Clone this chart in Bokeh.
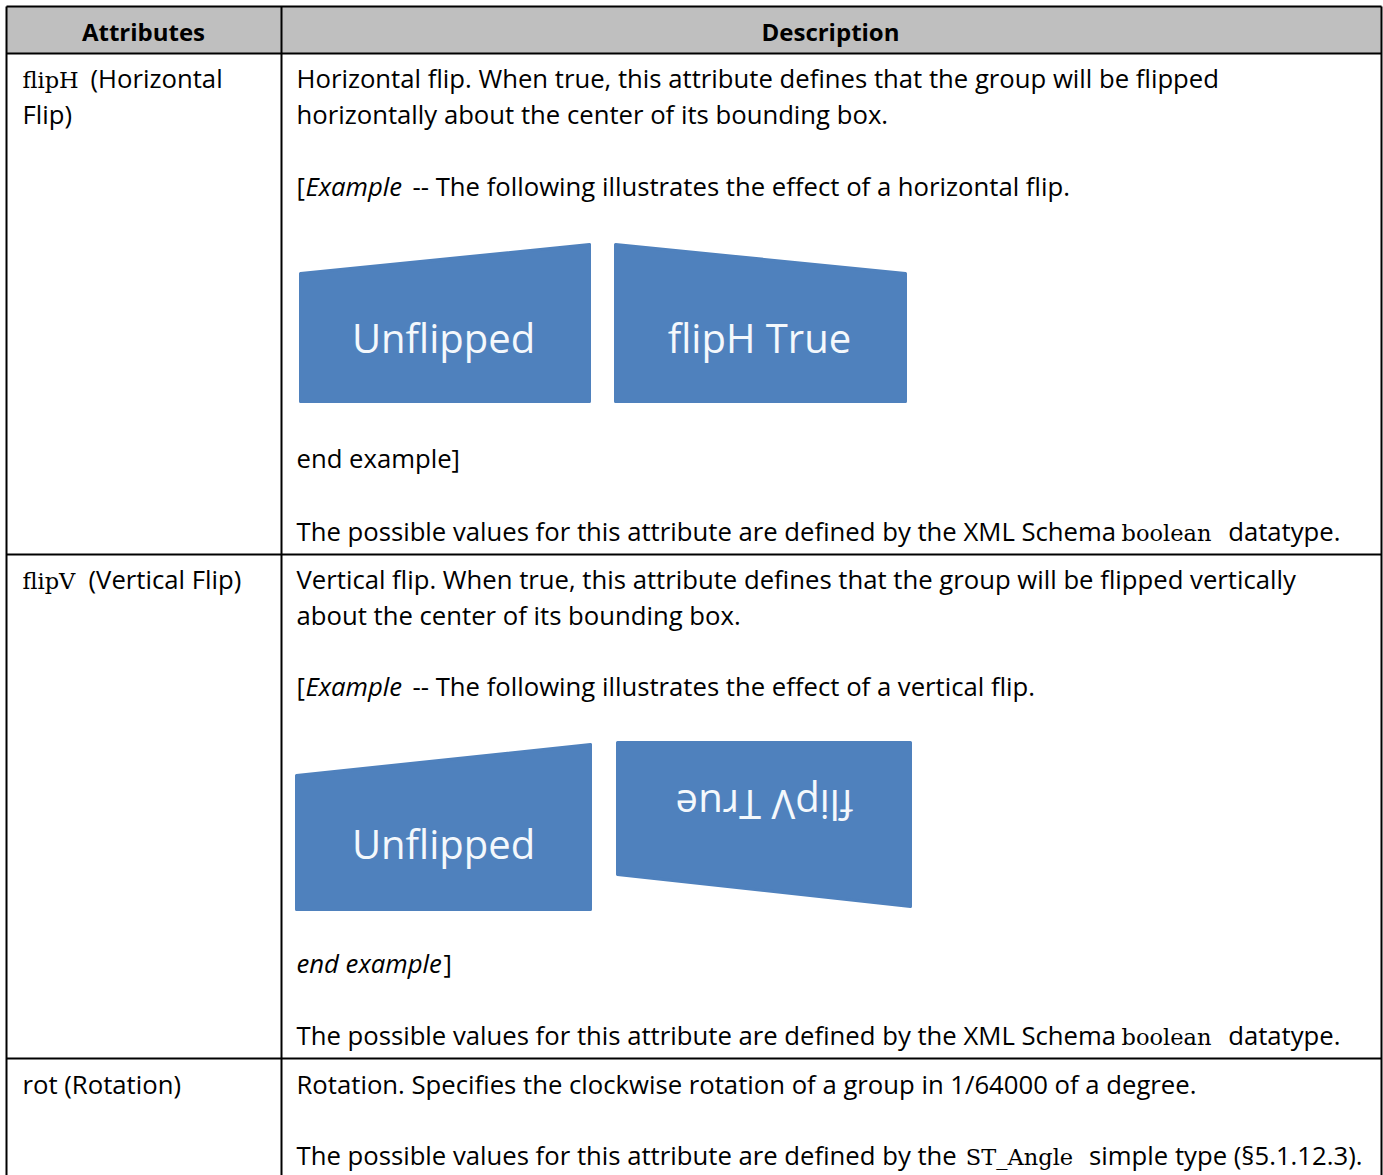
from bokeh.plotting import figure
from bokeh.models import Range1d, ColumnDataSource
from bokeh.core.properties import value
from bokeh.embed import file_html
from bokeh.resources import INLINE
import math

# ---------------- content ----------------
headers = ["Attributes", "Description"]
header_x = [143, 830]

# text runs: text, style, x, baseline, align
run_text = [
    # row 1 attribute
    "flipH", "(Horizontal", "Flip)",
    # row 1 description
    "Horizontal flip. When true, this attribute defines that the group will be flipped",
    "horizontally about the center of its bounding box.",
    "[", "Example", "-- The following illustrates the effect of a horizontal flip.",
    "end example]",
    "The possible values for this attribute are defined by the XML Schema", "boolean", "datatype.",
    # row 2 attribute
    "flipV", "(Vertical Flip)",
    # row 2 description
    "Vertical flip. When true, this attribute defines that the group will be flipped vertically",
    "about the center of its bounding box.",
    "[", "Example", "-- The following illustrates the effect of a vertical flip.",
    "end example", "]",
    "The possible values for this attribute are defined by the XML Schema", "boolean", "datatype.",
    # row 3
    "rot (Rotation)",
    "Rotation. Specifies the clockwise rotation of a group in 1/64000 of a degree.",
    "The possible values for this attribute are defined by the", "ST_Angle", "simple type (\u00a75.1.12.3).",
]
run_style = [
    "serif", "sans", "sans",
    "sans", "sans",
    "sans", "italic", "sans",
    "sans",
    "sans", "serif", "sans",
    "serif", "sans",
    "sans", "sans",
    "sans", "italic", "sans",
    "italic", "sans",
    "sans", "serif", "sans",
    "sans",
    "sans",
    "sans", "serif", "sans",
]
run_x = [
    22, 90, 22,
    296, 296,
    296, 305, 412,
    296,
    296, 1166, 1340,
    22, 88,
    296, 296,
    296, 305, 412,
    296, 443,
    296, 1166, 1340,
    22,
    296,
    296, 1019, 1362,
]
run_y = [
    78, 78, 114,
    78, 114,
    186, 186, 186,
    458,
    531, 531, 531,
    579, 579,
    579, 615,
    686, 686, 686,
    963, 963,
    1035, 1035, 1035,
    1084,
    1084,
    1155, 1155, 1155,
]
run_align = [
    "left", "left", "left",
    "left", "left",
    "left", "left", "left",
    "left",
    "left", "center", "right",
    "left", "left",
    "left", "left",
    "left", "left", "left",
    "left", "left",
    "left", "center", "right",
    "left",
    "left",
    "left", "center", "right",
]

# example shapes (polygon outlines) and their captions
shape_xs = [[300, 589, 589, 300], [615, 905, 905, 615],
            [296, 590, 590, 296], [617, 910, 910, 617]]
shape_ys = [[273, 244, 401, 401], [244, 273, 401, 401],
            [775, 744, 909, 909], [742, 742, 906, 874]]
shape_labels = ["Unflipped", "flipH True", "Unflipped", "flipV True"]
label_x = [443, 759, 443, 764]
label_y = [337, 337, 843, 805]
label_angle = [0, 0, 0, math.pi]

# table geometry
row_lines = [6, 53, 554, 1058]
col_lines = [6, 281, 1381]
TABLE_L, TABLE_R, TABLE_T, TABLE_B = 6, 1381, 6, 1200
HEADER_B = 53

SANS = "Open Sans"
SERIF = "DejaVu Serif"
FS = "25.7px"
BLUE = "#4f81bd"

W, H = 1383, 1175
p = figure(width=W, height=H, x_range=Range1d(0, W), y_range=Range1d(H, 0),
           output_backend="svg", toolbar_location=None, x_axis_type=None, y_axis_type=None,
           min_border=0)
p.grid.visible = False
p.outline_line_color = None
p.background_fill_color = "white"
p.border_fill_color = "white"

# header fill
p.quad(left=[TABLE_L], right=[TABLE_R], top=[TABLE_T], bottom=[HEADER_B],
       fill_color="#bfbfbf", line_color=None)

# grid lines
p.segment(x0=[TABLE_L] * len(row_lines), x1=[TABLE_R] * len(row_lines),
          y0=row_lines, y1=row_lines, line_color="black", line_width=2)
p.segment(x0=col_lines, x1=col_lines, y0=[TABLE_T] * len(col_lines),
          y1=[TABLE_B] * len(col_lines), line_color="black", line_width=2)

# header text
p.text(x=header_x, y=[31, 31], text=headers, text_font=value(SANS),
       text_font_style="bold", text_font_size="24px", text_align="center",
       text_baseline="alphabetic", text_color="black")

# body runs
for style, font, fstyle, fsize, dy in [("sans", SANS, "normal", FS, 0),
                                       ("italic", SANS, "italic", FS, 0),
                                       ("serif", SERIF, "normal", "22.5px", 1.5)]:
    idx = [i for i, s in enumerate(run_style) if s == style]
    src = ColumnDataSource(dict(
        x=[run_x[i] for i in idx], y=[run_y[i] + dy for i in idx],
        t=[run_text[i] for i in idx], a=[run_align[i] for i in idx]))
    p.text(x="x", y="y", text="t", text_align="a", source=src,
           text_font=value(font), text_font_style=fstyle, text_font_size=fsize,
           text_baseline="alphabetic", text_color="black")

# shapes
p.patches(xs=shape_xs, ys=shape_ys, fill_color=BLUE, line_color=BLUE,
          line_width=3, line_join="round")
p.text(x=label_x, y=label_y, text=shape_labels, angle=label_angle,
       text_font=value(SANS), text_font_size="40px", text_align="center",
       text_baseline="middle", text_color="#f4f8fc")

open("out.html", "w").write(file_html(p, INLINE))
